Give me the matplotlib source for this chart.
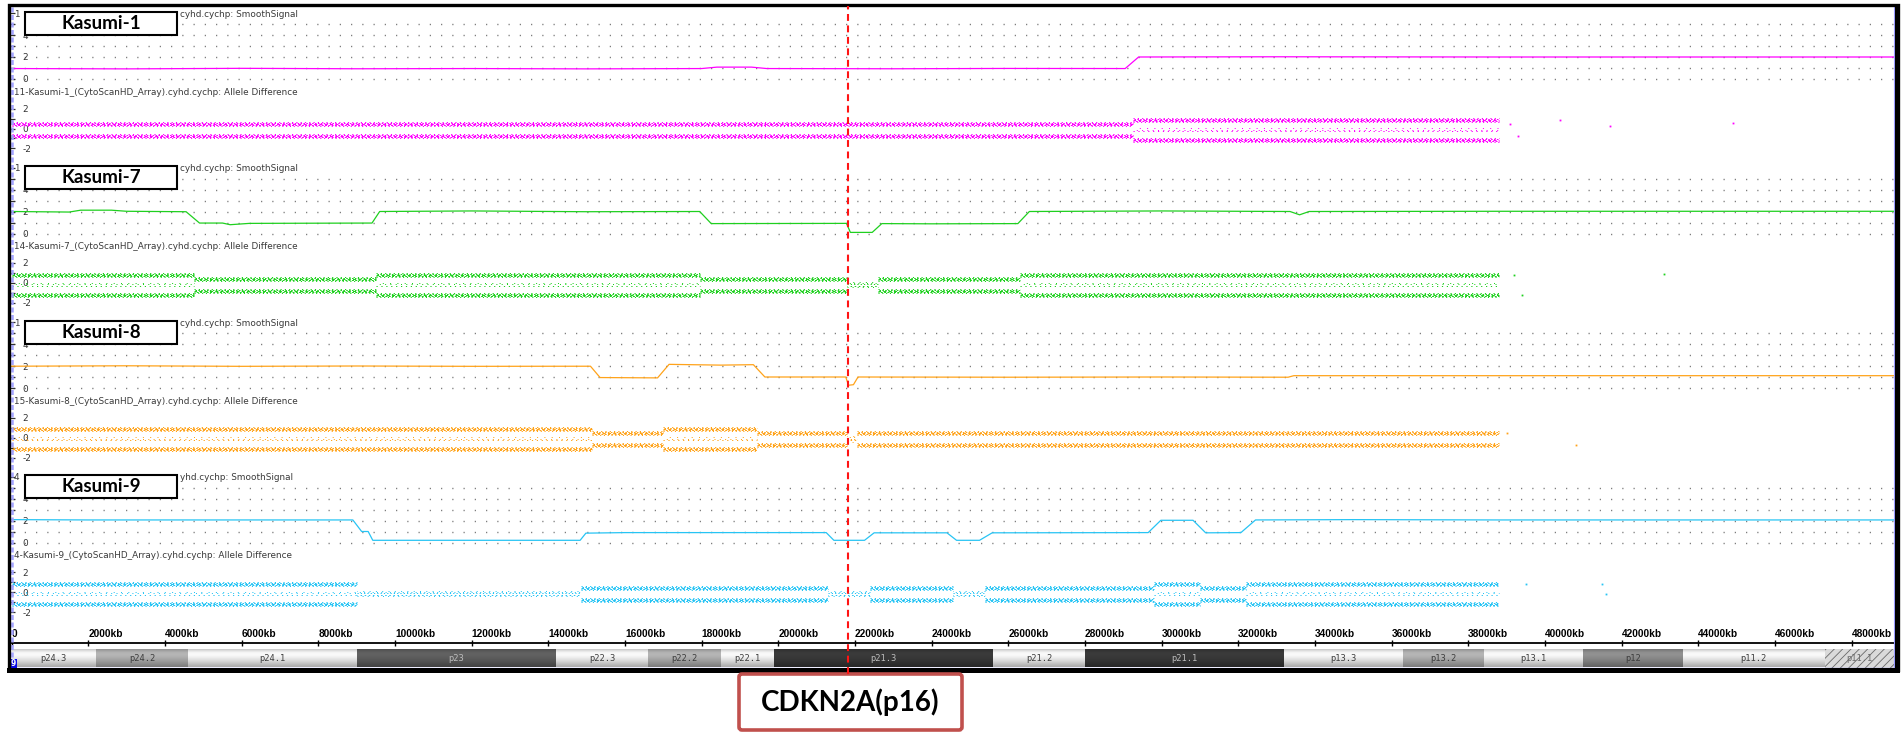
import matplotlib
matplotlib.use('Agg')
import matplotlib.pyplot as plt
from matplotlib.patches import Rectangle, FancyBboxPatch

plt.rcParams['hatch.linewidth'] = 0.6

# ---------------- data ----------------
sample_names = ['Kasumi-1', 'Kasumi-7', 'Kasumi-8', 'Kasumi-9']
sample_prefix = ['11', '14', '15', '4']
sample_colors = ['#ff00ff', '#1fd01f', '#ffa31a', '#27c4f4']

# SmoothSignal (copy number) breakpoints: position (kb) and value
k1_ss_kb = [0, 3000, 6000, 9000, 12000, 15000, 18000, 18400, 19300, 19700, 23000, 26000, 29050, 29400, 33000, 38800, 49100]
k1_ss_val = [0.95, 0.92, 0.97, 0.93, 0.95, 0.92, 0.95, 1.08, 1.08, 0.95, 0.93, 0.96, 0.95, 2.0, 2.02, 2.0, 2.0]

k7_ss_kb = [0, 1500, 1800, 2600, 3000, 4550, 4900, 5500, 5700, 6200, 9400, 9600, 12000, 15000, 17950, 18250,
            21780, 21880, 22450, 22700, 24000, 26250, 26550, 30000, 33350, 33600, 33850, 38800, 49100]
k7_ss_val = [2.0, 1.95, 2.12, 2.12, 2.02, 1.98, 0.95, 0.95, 0.8, 0.92, 0.95, 2.0, 2.05, 1.98, 2.0, 0.9,
             0.92, 0.1, 0.1, 0.9, 0.88, 0.9, 2.0, 2.05, 2.0, 1.7, 2.0, 2.02, 2.02]

k8_ss_kb = [0, 3000, 6000, 9000, 12000, 15100, 15350, 16850, 17150, 18500, 19350, 19650, 21760, 21830, 21960,
            22080, 26000, 30000, 33300, 33450, 38800, 49100]
k8_ss_val = [1.98, 2.02, 1.97, 2.0, 1.97, 1.98, 0.95, 0.92, 2.15, 2.08, 2.12, 1.0, 1.0, 0.25, 0.3,
             1.0, 0.98, 1.0, 0.98, 1.12, 1.12, 1.12]

k9_ss_kb = [0, 2000, 8900, 9130, 9300, 9420, 14830, 14980, 16000, 21250, 21450, 22250, 22500, 24400, 24650,
            25250, 25580, 29650, 29980, 30820, 31150, 32070, 32450, 35000, 38800, 49100]
k9_ss_val = [2.08, 2.05, 2.05, 1.0, 1.0, 0.2, 0.2, 0.85, 0.9, 0.9, 0.2, 0.2, 0.88, 0.88, 0.2,
             0.2, 0.88, 0.9, 2.02, 2.02, 0.88, 0.9, 2.05, 2.08, 2.05, 2.05]

# Allele Difference segments: start kb, end kb, state ('2' = two copies, '1' = one copy, '0' = deleted)
k1_ad_start = [0, 29250]
k1_ad_end = [29250, 38800]
k1_ad_state = ['1', '2']

k7_ad_start = [0, 4750, 9500, 17950, 21780, 22600, 26300]
k7_ad_end = [4750, 9500, 17950, 21780, 22600, 26300, 38800]
k7_ad_state = ['2', '1', '2', '1', '0', '1', '2']

k8_ad_start = [0, 15150, 17000, 19450, 21800, 22050]
k8_ad_end = [15150, 17000, 19450, 21800, 22050, 38800]
k8_ad_state = ['2', '1', '2', '1', '0', '1']

k9_ad_start = [0, 9000, 14850, 21300, 22400, 24550, 25400, 29800, 31000, 32200]
k9_ad_end = [9000, 14850, 21300, 22400, 24550, 25400, 29800, 31000, 32200, 38800]
k9_ad_state = ['2', '0', '1', '0', '1', '0', '1', '2', '1', '2']

# isolated allele-difference probes beyond the dense region
k1_extra_kb = [39100, 39300, 40400, 41700, 44900]
k1_extra_val = [0.45, -0.75, 0.9, 0.3, 0.6]
k7_extra_kb = [39200, 39400, 43100]
k7_extra_val = [0.85, -1.15, 0.9]
k8_extra_kb = [39000, 40800]
k8_extra_val = [0.45, -0.75]
k9_extra_kb = [39500, 41500, 41600]
k9_extra_val = [0.85, 0.8, -0.2]

# allele difference band centres per state
state_bands = {'2': [0.85, -0.15, -1.15], '1': [0.45, -0.75], '0': [-0.1]}
state_kind = {'2': ['dense', 'sparse', 'dense'], '1': ['dense', 'dense'], '0': ['del']}

# ruler ticks
ruler_kb = list(range(0, 48001, 2000))
ruler_labels = ['0'] + [f'{v}kb' for v in ruler_kb[1:]]

# chromosome 9p cytobands
band_names = ['p24.3', 'p24.2', 'p24.1', 'p23', 'p22.3', 'p22.2', 'p22.1', 'p21.3', 'p21.2', 'p21.1',
              'p13.3', 'p13.2', 'p13.1', 'p12', 'p11.2', 'p11.1']
band_start = [0, 2200, 4600, 9000, 14200, 16600, 18500, 19900, 25600, 28000, 33200, 36300, 38400, 41000, 43600, 47300]
band_end = [2200, 4600, 9000, 14200, 16600, 18500, 19900, 25600, 28000, 33200, 36300, 38400, 41000, 43600, 47300, 49108]
band_stain = ['gneg', 'gpos25', 'gneg', 'gpos75', 'gneg', 'gpos25', 'gneg', 'gpos100', 'gneg', 'gpos100',
              'gneg', 'gpos25', 'gneg', 'gpos50', 'gneg', 'acen']

CDKN2A_KB = 21830
gene_label = 'CDKN2A(p16)'

ss_kb = [k1_ss_kb, k7_ss_kb, k8_ss_kb, k9_ss_kb]
ss_val = [k1_ss_val, k7_ss_val, k8_ss_val, k9_ss_val]
ad_start = [k1_ad_start, k7_ad_start, k8_ad_start, k9_ad_start]
ad_end = [k1_ad_end, k7_ad_end, k8_ad_end, k9_ad_end]
ad_state = [k1_ad_state, k7_ad_state, k8_ad_state, k9_ad_state]
extra_kb = [k1_extra_kb, k7_extra_kb, k8_extra_kb, k9_extra_kb]
extra_val = [k1_extra_val, k7_extra_val, k8_extra_val, k9_extra_val]

# ---------------- layout ----------------
W, H = 1901, 735
fig = plt.figure(figsize=(W / 100, H / 100), dpi=100)

X0_PX = 11.7          # pixel of 0 kb
PX_PER_KB = 0.03833
AX_L, AX_R = 10, 1894
XLIM = ((AX_L - X0_PX) / PX_PER_KB, (AX_R - X0_PX) / PX_PER_KB)
block_y = [14, 168.5, 323, 477.5]

TXT = 'DejaVu Sans'


def px_axes(x0, y0, x1, y1, zorder=1):
    return fig.add_axes([x0 / W, 1 - y1 / H, (x1 - x0) / W, (y1 - y0) / H], zorder=zorder)


def clean(ax):
    for s in ax.spines.values():
        s.set_visible(False)
    ax.set_facecolor('none')
    ax.set_xlim(*XLIM)
    ax.set_xticks([])


def inside_yticks(ax, ticks, labels):
    ax.set_yticks(ticks)
    ax.set_yticklabels(labels, fontsize=6.4, family=TXT, color='#333333')
    ax.tick_params(axis='y', direction='in', length=3.5, width=0.9, color='#303030', pad=-9)
    for t in ax.get_yticklabels():
        t.set_horizontalalignment('left')


dense_specs = [(-0.2, (0, (1.1, 2.7))), (-0.1, (1, (2.0, 1.3))), (0.0, (0.5, (3.1, 2.2))),
               (0.1, (2, (1.6, 1.3))), (0.2, (0, (1.2, 3.1)))]
sparse_specs = [(-0.1, (0, (1.2, 3.7))), (0.05, (2, (1, 4.3))), (0.18, (1, (1, 6.3)))]
del_specs = [(-0.3, (0, (1, 4.1))), (-0.15, (1, (1.5, 2.6))), (0.0, (0, (1.2, 2.1))),
             (0.12, (2, (1, 3.3))), (0.25, (0.5, (1, 5.3)))]
spec_map = {'dense': dense_specs, 'sparse': sparse_specs, 'del': del_specs}

for i in range(4):
    by = block_y[i]
    col = sample_colors[i]
    # ---- SmoothSignal panel ----
    top, bot, zero = by - 8, by + 70, by + 65
    ax = px_axes(AX_L, top, AX_R, bot)
    clean(ax)
    ax.set_ylim((zero - bot) / 11.0, (zero - top) / 11.0)
    for v in range(0, 6):
        ax.plot([XLIM[0] + 80, XLIM[1]], [v, v], color='#7d7d7d', lw=1.0, ls=(0, (0.9, 7.2)), zorder=1)
    ax.plot(ss_kb[i], ss_val[i], color=col, lw=0.9, zorder=3)
    inside_yticks(ax, list(range(0, 7)), ['0', '', '2', '', '4', '', ''])

    # ---- Allele Difference panel ----
    top, bot, zero = by + 84, by + 145, by + 114.5
    ax = px_axes(AX_L, top, AX_R, bot)
    clean(ax)
    ax.set_ylim((zero - bot) / 10.0, (zero - top) / 10.0)
    for s, e, st in zip(ad_start[i], ad_end[i], ad_state[i]):
        for yc, kind in zip(state_bands[st], state_kind[st]):
            for dy, ls in spec_map[kind]:
                ax.plot([s, e], [yc + dy, yc + dy], color=col, lw=0.72, ls=ls, zorder=3)
    ax.plot(extra_kb[i], extra_val[i], ls='none', marker='s', ms=1.3, mew=0, color=col)
    inside_yticks(ax, [-2, -1, 0, 1, 2], ['-2', '', '0', '', '2'])

# ---- ruler ----
axr = px_axes(AX_L, 643, AX_R, 648)
for k, s in axr.spines.items():
    s.set_visible(k == 'top')
axr.spines['top'].set_linewidth(1.3)
axr.set_facecolor('none')
axr.set_xlim(*XLIM)
axr.set_yticks([])
axr.set_xticks(ruler_kb)
axr.set_xticklabels(ruler_labels, fontsize=7.3, family='Liberation Sans', fontweight='bold')
axr.tick_params(axis='x', top=True, bottom=False, labeltop=True, labelbottom=False,
                direction='inout', length=4.5, width=1, pad=0.5)
for t in axr.get_xticklabels():
    t.set_horizontalalignment('left')

# ---- ideogram ----
axi = px_axes(AX_L, 649, AX_R, 667.5)
clean(axi)
axi.set_yticks([])
axi.set_ylim(0, 1)
stain_rgb = {'gneg': 0.895, 'gpos25': 0.65, 'gpos50': 0.52, 'gpos75': 0.35, 'gpos100': 0.21}
profile = [0.86, 0.97, 1.07, 1.1, 1.08, 1.04, 0.99, 0.94, 0.88, 0.82, 0.76]
for name, s, e, st in zip(band_names, band_start, band_end, band_stain):
    if st == 'acen':
        axi.add_patch(Rectangle((s, 0), e - s, 1, facecolor='#dadada', edgecolor='#6a6a6a',
                                lw=0, hatch='////', zorder=1))
        tc = '#6a6a6a'
    else:
        b = stain_rgb[st]
        grad = [[[min(1, b * p)] * 3] for p in profile]
        axi.imshow(grad, extent=(s, e, 0, 1), aspect='auto', interpolation='bilinear', zorder=1)
        tc = '#bdbdbd' if st in ('gpos75', 'gpos100') else '#3c3c3c'
    axi.text((s + e) / 2, 0.5, name, ha='center', va='center', fontsize=6.3,
             family='DejaVu Sans Mono', color=tc, zorder=3)
axi.set_xlim(*XLIM)
axi.set_ylim(0, 1)

# ---- overlay: frame, titles, labels ----
axo = fig.add_axes([0, 0, 1, 1], zorder=5)
axo.set_xlim(0, W)
axo.set_ylim(H, 0)
axo.axis('off')

# left selection strip and bottom blue line
axo.plot([12.3, 12.3], [7, 667], color='#a3a3ff', lw=1.8, ls=(0, (2, 1)), zorder=1)
axo.plot([10, 1894], [668, 668], color='#7b7bff', lw=0.9, zorder=2)
axo.plot([1893.5, 1893.5], [6, 668], color='#9a9aff', lw=0.8, zorder=2)

for i in range(4):
    by = block_y[i]
    nm = sample_names[i]
    pre = sample_prefix[i]
    # SmoothSignal title: the sample label box hides its middle, so only the visible ends are drawn
    lead = pre[0]
    tail = 'cyhd.cychp: SmoothSignal' if len(pre) == 2 else 'yhd.cychp: SmoothSignal'
    axo.text(14, by, lead, fontsize=6.4, family=TXT, color='#3a3a3a', va='center', ha='left', zorder=3)
    axo.text(180, by, tail, fontsize=6.4, family=TXT, color='#3a3a3a', va='center', ha='left', zorder=3)
    axo.text(14, by + 78, f'{pre}-{nm}_(CytoScanHD_Array).cyhd.cychp: Allele Difference', fontsize=6.4,
             family=TXT, color='#3a3a3a', va='center', ha='left', zorder=3)
    axo.add_patch(Rectangle((25, by - 2.5), 152, 23, facecolor='white', edgecolor='black', lw=1.5, zorder=4))
    axo.text(101, by + 9, nm, fontsize=13.5, family='Lato', fontweight='bold', ha='center',
             va='center', color='black', zorder=5)

# chromosome number tag
axo.add_patch(Rectangle((10, 659), 6.5, 9, facecolor='#0a0ae6', edgecolor='none', zorder=4))
axo.text(13.2, 664, '9', fontsize=5.5, color='white', fontweight='bold', ha='center', va='center', zorder=5)

# outer frame
axo.add_patch(Rectangle((8.5, 5), 1889, 665, facecolor='none', edgecolor='black', lw=2.4, zorder=6))
axo.add_patch(Rectangle((7, 668), 1893, 5, facecolor='black', edgecolor='none', zorder=6))
axo.add_patch(Rectangle((1895, 4), 5, 669, facecolor='black', edgecolor='none', zorder=6))

# gene callout box
axo.add_patch(FancyBboxPatch((739, 674), 223, 56, boxstyle='round,pad=0,rounding_size=3',
                             facecolor='white', edgecolor='#c0504d', lw=2.6, zorder=6))
axo.text(850.5, 702.5, gene_label, fontsize=20, family='Lato', fontweight='bold', ha='center',
         va='center', color='black', zorder=7)

# ---- CDKN2A marker line ----
axm = px_axes(AX_L, 6, AX_R, 674, zorder=7)
axm.axis('off')
axm.set_xlim(*XLIM)
axm.set_ylim(0, 1)
axm.axvline(CDKN2A_KB, color='#ff1414', lw=1.5, ls=(0, (3.3, 2.2)))

fig.savefig('out.png', dpi=100)
